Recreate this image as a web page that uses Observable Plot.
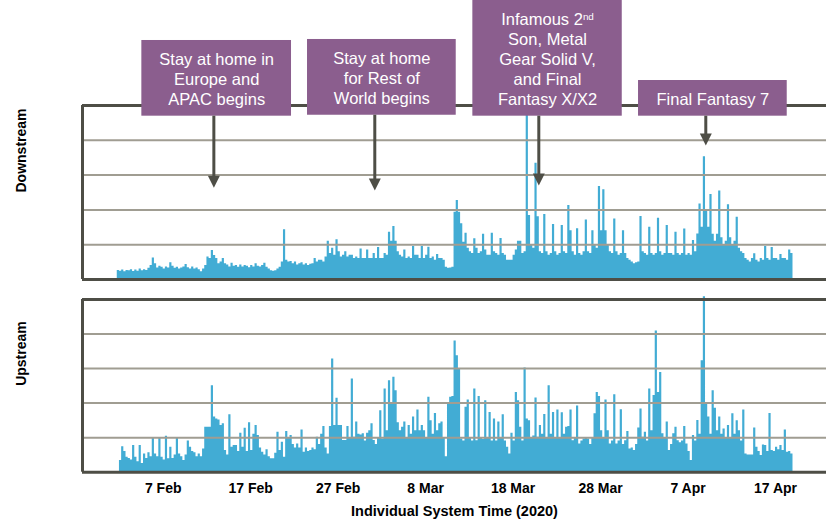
<!DOCTYPE html>
<html><head><meta charset="utf-8">
<script src="https://cdn.jsdelivr.net/npm/d3@7"></script>
<script src="https://cdn.jsdelivr.net/npm/@observablehq/plot@0.6"></script>
<style>
html,body{margin:0;padding:0;background:#fff;}
#chart{width:827px;height:529px;overflow:hidden;}
#chart svg{display:block;}
</style></head><body><div id="chart"></div>
<script>
// ---- data (values in grid units: 5 gridline intervals per panel) ----
const seriesStart = "2020-02-01T00:00Z";
const stepHours = 6;
const xDomain = ["2020-01-28T18:37Z", "2020-04-22T19:55Z"];

const downstream = [
null,null,null,0.26, 0.24,0.27,0.22,0.26, 0.25,0.28,0.23,0.27, 0.24,0.3,0.25,0.28,
0.26,0.32,0.4,0.62, 0.45,0.33,0.38,0.35, 0.3,0.36,0.33,0.48, 0.38,0.32,0.35,0.3,
0.33,0.36,0.43,0.34, 0.3,0.36,0.3,0.33, 0.28,0.22,0.3,0.4, 0.65,0.6,0.83,0.69,
0.6,0.45,0.5,0.6, 0.45,0.42,0.36,0.47, 0.38,0.4,0.35,0.42, 0.36,0.4,0.38,0.34,
0.4,0.36,0.45,0.38, 0.36,0.4,0.47,0.35, 0.3,0.25,0.24,0.25, 0.3,0.35,0.5,1.43,
0.55,0.5,0.52,0.45, 0.5,0.42,0.45,0.48, 0.42,0.45,0.4,0.44, 0.45,0.6,0.5,0.55,
0.55,0.5,0.65,1.1, 0.75,0.9,0.7,1.14, 0.8,0.65,0.7,0.8, 0.65,0.7,0.7,0.6,
0.65,0.6,0.88,0.6, 0.6,0.85,0.6,0.6, 0.75,0.6,0.92,0.6, 0.6,0.75,0.7,1.36,
1.1,1.52,1.1,0.8, 0.7,0.65,0.85,0.6, 0.65,0.6,0.95,0.7, 0.7,0.6,0.95,0.6,
0.7,0.93,0.6,0.65, 0.55,0.72,0.6,0.6, 0.55,0.35,0.32,0.33, 0.35,1.93,2.27,1.93,
1.6,1.07,1.33,0.9, 0.8,0.75,1.17,0.9, 0.75,0.8,1.3,0.85, 0.7,0.7,1.33,0.8,
0.75,0.7,1.18,0.75, 0.7,0.55,0.55,0.55, 0.7,0.85,1.1,1.1, 0.75,0.8,5.3,1.84,
1.0,0.9,3.34,1.8, 0.8,0.75,1.87,0.8, 0.7,0.75,1.58,0.8, 0.7,0.75,1.55,0.8,
0.75,2.13,1.4,0.8, 0.7,1.46,0.75,0.7, 0.8,1.71,0.8,0.75, 1.4,1.0,0.9,2.67,
1.4,2.58,1.4,1.0, 0.8,0.75,1.74,0.8, 0.7,0.75,1.4,0.75, 0.6,0.55,0.5,0.45,
0.48,0.5,1.81,0.8, 0.75,0.7,1.5,0.75, 0.7,0.75,1.76,0.8, 0.7,0.75,1.55,0.75,
0.75,0.7,1.36,0.75, 0.7,0.75,1.45,0.7, 0.75,0.7,1.12,0.8, 1.31,2.17,1.5,3.53,
1.98,1.5,2.44,1.3, 1.1,1.3,2.54,1.2, 1.0,1.1,2.15,1.2, 1.0,1.1,1.79,0.9,
0.8,0.75,0.6,0.55, 0.5,0.6,0.74,0.55, 0.5,0.6,0.55,0.95, 0.6,0.55,0.92,0.6,
0.6,0.55,0.72,0.6, 0.6,0.55,0.85,0.75, 0.75
];

const upstream = [
null,null,null,null, 0.34,0.74,0.6,0.43, 0.4,0.35,0.77,0.43, 0.3,0.77,0.25,0.53,
0.4,0.56,0.45,0.98, 0.53,0.45,0.98,0.43, 0.35,1.04,0.39,0.72, 0.4,0.5,0.98,0.53,
0.45,0.34,0.5,0.9, 0.72,0.6,0.56,0.45, 0.53,0.45,0.67,1.3, 1.3,1.3,2.5,1.6,
1.54,1.51,1.35,1.4, 0.63,0.5,1.66,0.72, 0.77,0.77,0.6,1.13, 0.72,1.27,0.6,1.43,
0.63,1.1,1.35,1.06, 0.7,0.58,0.5,0.65, 0.45,0.39,0.39,0.55, 1.16,0.63,0.87,0.43,
1.18,1.0,1.06,0.8, 0.7,0.82,0.7,1.22, 0.58,0.7,0.6,0.63, 0.7,0.65,1.01,0.8,
1.1,1.32,0.7,0.53, 1.32,3.28,1.35,2.14, 1.35,1.35,0.92,0.92, 1.32,1.0,2.7,1.01,
1.45,1.1,1.08,1.11, 0.9,1.13,1.2,1.4, 0.92,0.8,1.0,1.78, 0.96,2.41,1.2,2.65,
2.0,2.75,2.36,1.43, 1.2,1.3,1.45,1.0, 1.35,1.1,1.6,1.2, 1.8,1.2,1.35,1.2,
1.0,2.17,1.49,1.1, 1.7,1.2,1.4,1.45, 1.0,0.45,2.0,2.17, 2.19,3.8,3.37,3.0,
0.96,0.9,1.88,2.09, 1.0,0.9,2.41,0.91, 2.19,1.0,0.95,2.07, 1.0,1.73,0.9,1.54,
0.9,1.45,1.0,1.66, 0.9,0.72,0.53,1.13, 0.9,2.31,2.07,1.3, 0.9,3.02,1.54,1.49,
1.0,1.05,2.15,1.01, 1.35,1.1,1.67,1.0, 2.5,1.1,1.73,1.0, 1.8,1.0,1.72,1.1,
1.3,1.32,1.8,0.91, 1.0,1.92,0.82,0.9, 0.96,1.0,0.96,0.8, 1.0,1.69,2.31,2.19,
1.2,1.0,2.09,1.2, 0.82,0.9,2.24,0.82, 0.9,1.81,0.8,0.91, 1.18,0.67,0.7,0.63,
0.8,1.28,1.83,1.01, 1.16,0.9,2.41,1.2, 2.22,4.09,2.31,2.89, 1.11,1.0,1.45,0.63,
0.8,1.11,1.3,0.91, 0.85,0.9,1.32,0.82, 0.6,0.34,1.06,0.9, 1.5,1.1,3.23,5.08,
2.02,1.6,1.1,2.36, 1.85,1.2,1.6,1.1, 1.25,1.0,1.35,1.0, 1.69,1.1,1.49,1.2,
0.9,1.8,0.53,0.5, 0.5,0.5,1.28,0.72, 0.6,0.48,0.79,0.77, 0.6,1.7,0.63,0.6,
0.72,0.65,0.77,0.63, 1.22,0.58,0.6,0.53, 0.53
];

const panelLabels = ["Downstream", "Upstream"];
const tickDates = ["2020-02-07","2020-02-17","2020-02-27","2020-03-08","2020-03-18","2020-03-28","2020-04-07","2020-04-17"];
const tickLabels = ["7 Feb","17 Feb","27 Feb","8 Mar","18 Mar","28 Mar","7 Apr","17 Apr"];
const xTitle = "Individual System Time (2020)";
const gridValues = [1, 2, 3, 4];
const frameValues = [0, 5];

// annotations (top panel)
const annText = [
  "Stay at home in\nEurope and\nAPAC begins",
  "Stay at home\nfor Rest of\nWorld begins",
  "Infamous 2nd\nSon, Metal\nGear Solid V,\nand Final\nFantasy X/X2",
  "Final Fantasy 7"
];
const annArrowDate = ["2020-02-12T19:00Z","2020-03-02T04:34Z","2020-03-20T22:34Z","2020-04-09T00:43Z"];
const annArrowTip = [2.635, 2.557, 2.70, 3.85];
const annBoxStart = ["2020-02-04T13:26Z","2020-02-23T12:00Z","2020-03-13T09:36Z","2020-04-01T08:10Z"];
const annBoxEnd = ["2020-02-21T16:05Z","2020-03-11T12:00Z","2020-03-30T11:31Z","2020-04-18T08:10Z"];
const annBoxTop = [6.868, 6.897, 8.017, 5.718];
const annBoxBottom = [4.693, 4.72, 4.693, 4.693];

// ---- styles ----
const FONT = "'Liberation Sans', Arial, Helvetica, sans-serif";
const BLUE = "#42acd4";
const GRID = "#a09d92";
const DARK = "#4e4e46";
const PURPLE = "#8b5e8e";

const t0 = new Date(seriesStart).getTime();
const rows = vals => vals.map((v, i) => ({t: new Date(t0 + i * stepHours * 3600e3), v}));
const domain = xDomain.map(d => new Date(d));

const annotations = annText.map((text, i) => ({
  text,
  x: new Date(annArrowDate[i]),
  tip: annArrowTip[i],
  x1: new Date(annBoxStart[i]),
  x2: new Date(annBoxEnd[i]),
  top: annBoxTop[i],
  bottom: annBoxBottom[i]
}));

const downTriangle = {
  draw(ctx, size) {
    const r = Math.sqrt(size / Math.PI), h = r * 1.25;
    ctx.moveTo(0, h); ctx.lineTo(-h, -h); ctx.lineTo(h, -h); ctx.closePath();
  }
};

function panelMarks(values, label) {
  return [
    Plot.areaY(rows(values), {x: "t", y: "v", curve: "step-after", fill: BLUE}),
    Plot.ruleY(gridValues, {stroke: GRID, strokeWidth: 2}),
    Plot.ruleY(frameValues, {stroke: DARK, strokeWidth: 3}),
    Plot.ruleX([domain[0]], {y1: 0, y2: 5, stroke: DARK, strokeWidth: 3}),
    Plot.text([label], {frameAnchor: "left", dx: -61, rotate: -90, fontWeight: "bold", fontSize: 14, fill: "#000"})
  ];
}

const topPlot = Plot.plot({
  width: 827, height: 290,
  marginTop: 105, marginBottom: 11, marginLeft: 82, marginRight: 1,
  x: {type: "utc", domain, axis: null},
  y: {domain: [0, 5], axis: null},
  style: {fontFamily: FONT, background: "transparent", overflow: "visible"},
  marks: [
    ...panelMarks(downstream, panelLabels[0]),
    Plot.rect(annotations, {x1: "x1", x2: "x2", y1: "bottom", y2: "top", fill: PURPLE}),
    Plot.text(annotations, {
      x: d => new Date((+d.x1 + +d.x2) / 2), y: d => (d.top + d.bottom) / 2,
      text: "text", fill: "#fff", fontSize: 16.5, lineHeight: 1.21, fontFamily: FONT
    }),
    Plot.ruleX(annotations, {x: "x", y1: "bottom", y2: "tip", stroke: DARK, strokeWidth: 3, insetBottom: 6}),
    Plot.dot(annotations, {x: "x", y: "tip", symbol: downTriangle, r: 4.8, fill: DARK, stroke: "none", dy: -6})
  ]
});

const tickMap = new Map(tickDates.map((d, i) => [+new Date(d), tickLabels[i]]));

const bottomPlot = Plot.plot({
  width: 827, height: 239,
  marginTop: 9, marginBottom: 57.3, marginLeft: 82, marginRight: 1,
  x: {type: "utc", domain, label: null},
  y: {domain: [0, 5], axis: null},
  style: {fontFamily: FONT, background: "transparent", overflow: "visible"},
  marks: [
    ...panelMarks(upstream, panelLabels[1]),
    Plot.axisX(tickDates.map(d => new Date(d)), {
      tickSize: 0, tickPadding: 11, tickFormat: d => tickMap.get(+d),
      fontSize: 14, fontWeight: "bold", fill: "#000", label: null
    }),
    Plot.text([xTitle], {frameAnchor: "bottom", dy: 44, fontWeight: "bold", fontSize: 14.5, fill: "#000"})
  ]
});

// superscript "nd" in "Infamous 2nd"
d3.select(topPlot).selectAll("tspan").each(function() {
  if (this.textContent === "Infamous 2nd") {
    this.textContent = "Infamous 2";
    const s = document.createElementNS("http://www.w3.org/2000/svg", "tspan");
    s.setAttribute("baseline-shift", "super");
    s.setAttribute("font-size", "60%");
    s.textContent = "nd";
    this.appendChild(s);
  }
});

const chart = document.getElementById("chart");
chart.appendChild(topPlot);
chart.appendChild(bottomPlot);
</script></body></html>
